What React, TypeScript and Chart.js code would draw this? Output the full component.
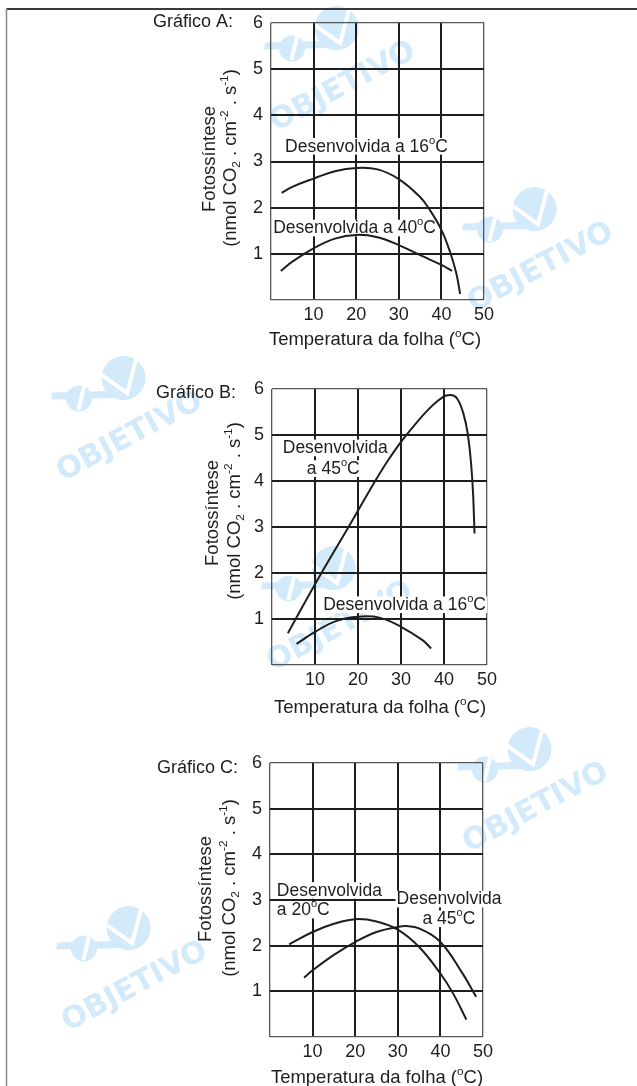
import React, { useEffect, useRef } from "react";
import { Chart, registerables } from "chart.js";

Chart.register(...registerables);

// ---------------- DATA ----------------
const xTickValues = [0, 10, 20, 30, 40, 50];
const yTickValues = [0, 1, 2, 3, 4, 5, 6];

// Gráfico A
const tempA16 = [2.5, 5, 10, 15, 20, 25, 30, 35, 37.5, 40, 42, 43.5, 44.4];
const fotoA16 = [2.32, 2.45, 2.63, 2.79, 2.86, 2.83, 2.62, 2.23, 1.92, 1.52, 1.05, 0.58, 0.13];
const tempA40 = [2.3, 5, 10, 15, 20, 25, 30, 35, 40, 42.5];
const fotoA40 = [0.63, 0.83, 1.12, 1.33, 1.41, 1.36, 1.19, 0.97, 0.76, 0.63];

// Gráfico B
const tempB45 = [3.7, 5.5, 11.5, 17.8, 24, 27, 30, 33, 36, 38.5, 40.5, 41.5, 43, 44.5, 45.5, 46.3, 46.8, 47.1];
const fotoB45 = [0.69, 1, 2, 3, 4, 4.45, 4.85, 5.2, 5.52, 5.74, 5.86, 5.87, 5.8, 5.47, 5.04, 4.38, 3.66, 2.86];
const tempB16 = [5.7, 10, 15, 20, 25, 30, 35, 37];
const fotoB16 = [0.46, 0.72, 0.96, 1.05, 1.03, 0.83, 0.54, 0.36];

// Gráfico C
const tempC20 = [4.5, 10, 15, 20, 25, 30, 35, 40, 43, 46.1];
const fotoC20 = [2.03, 2.3, 2.48, 2.58, 2.53, 2.35, 1.97, 1.39, 0.95, 0.38];
const tempC45 = [8, 10, 15, 20, 25, 30, 32, 35, 40, 45, 48.4];
const fotoC45 = [1.3, 1.46, 1.8, 2.08, 2.3, 2.41, 2.43, 2.38, 2.08, 1.42, 0.88];

// ---------------- TEXT ----------------
type Seg = { t: string; s?: "sup" | "sub" };
const yTitle1: Seg[] = [{ t: "Fotossíntese" }];
const yTitle2: Seg[] = [
  { t: "(nmol CO" }, { t: "2", s: "sub" }, { t: " . cm" }, { t: "-2", s: "sup" },
  { t: " . s" }, { t: "-1", s: "sup" }, { t: ")" },
];
const xTitle: Seg[] = [{ t: "Temperatura da folha (" }, { t: "o", s: "sup" }, { t: "C)" }];
const deg = (pre: string): Seg[] => [{ t: pre }, { t: "o", s: "sup" }, { t: "C" }];

// ---------------- STYLE / LAYOUT ----------------
const PAGE_W = 637;
const PAGE_H = 1086;
const PANEL_H = 362;
const INK = "#1e1e1e";
const FONT = '"Liberation Sans", Arial, Helvetica, sans-serif';
const WM_COLOR = "#d3eafb";
const WATERMARKS: [number, number][] = [
  [343, 87], [541, 268], [130, 437], [340, 627], [536, 808], [135, 987],
];

type Label = { x: number; y: number; segs: Seg[] };
type Series = { x: number[]; y: number[]; mono?: boolean };
type PanelCfg = {
  key: string;
  top: number;
  title: string;
  titlePos: [number, number];
  area: { left: number; right: number; top: number; bottom: number };
  y1Pos: [number, number];
  y2Pos: [number, number];
  xTitlePos: [number, number];
  series: Series[];
  labels: Label[];
};

const PANELS: PanelCfg[] = [
  {
    key: "A", top: 0, title: "Gráfico A:", titlePos: [233, 22],
    area: { left: 271, right: 484, top: 23, bottom: 300 },
    y1Pos: [210, 159], y2Pos: [231, 158], xTitlePos: [375, 340],
    series: [{ x: tempA16, y: fotoA16 }, { x: tempA40, y: fotoA40 }],
    labels: [
      { x: 3.3, y: 3.32, segs: deg("Desenvolvida a 16") },
      { x: 0.5, y: 1.55, segs: deg("Desenvolvida a 40") },
    ],
  },
  {
    key: "B", top: 362, title: "Gráfico B:", titlePos: [236, 31],
    area: { left: 272, right: 487, top: 27, bottom: 303 },
    y1Pos: [213, 151], y2Pos: [235, 149], xTitlePos: [380, 346],
    series: [{ x: tempB45, y: fotoB45, mono: true }, { x: tempB16, y: fotoB16 }],
    labels: [
      { x: 2.5, y: 4.71, segs: [{ t: "Desenvolvida" }] },
      { x: 8.1, y: 4.26, segs: deg("a 45") },
      { x: 11.9, y: 1.3, segs: deg("Desenvolvida a 16") },
    ],
  },
  {
    key: "C", top: 724, title: "Gráfico C:", titlePos: [238, 44],
    area: { left: 270, right: 483, top: 39, bottom: 313 },
    y1Pos: [206, 165], y2Pos: [230, 164], xTitlePos: [377, 354],
    series: [{ x: tempC20, y: fotoC20 }, { x: tempC45, y: fotoC45 }],
    labels: [
      { x: 1.6, y: 3.2, segs: [{ t: "Desenvolvida" }] },
      { x: 1.6, y: 2.77, segs: deg("a 20") },
      { x: 29.7, y: 3.01, segs: [{ t: "Desenvolvida" }] },
      { x: 35.8, y: 2.58, segs: deg("a 45") },
    ],
  },
];

// ---------------- HELPERS ----------------
function segFont(seg: Seg, size: number) {
  return `${seg.s ? size * 0.64 : size}px ${FONT}`;
}
function richWidth(ctx: CanvasRenderingContext2D, segs: Seg[], size: number) {
  let w = 0;
  for (const s of segs) {
    ctx.font = segFont(s, size);
    w += ctx.measureText(s.t).width;
  }
  return w;
}
function drawRich(
  ctx: CanvasRenderingContext2D, segs: Seg[], x: number, y: number, size: number,
  align: "left" | "center" | "right", knockout = false
) {
  const w = richWidth(ctx, segs, size);
  let cx = align === "left" ? x : align === "center" ? x - w / 2 : x - w;
  if (knockout) {
    ctx.fillStyle = "#ffffff";
    ctx.fillRect(cx - 1, y - size * 0.5, w + 2, size * 0.95);
  }
  ctx.fillStyle = INK;
  ctx.textAlign = "left";
  ctx.textBaseline = "middle";
  for (const s of segs) {
    ctx.font = segFont(s, size);
    const dy = s.s === "sup" ? -size * 0.36 : s.s === "sub" ? size * 0.3 : 0;
    ctx.fillText(s.t, cx, y + dy);
    cx += ctx.measureText(s.t).width;
  }
}
function drawWatermark(ctx: CanvasRenderingContext2D, cx: number, cy: number) {
  ctx.save();
  ctx.translate(cx, cy);
  ctx.rotate((-28 * Math.PI) / 180);
  ctx.fillStyle = WM_COLOR;
  ctx.font = `bold 30px "DejaVu Sans", ${FONT}`;
  ctx.textAlign = "center";
  ctx.textBaseline = "middle";
  ctx.fillText("OBJETIVO", 0, 0);
  // logo
  ctx.beginPath();
  ctx.arc(22, -55, 22, 0, Math.PI * 2);
  ctx.fill();
  ctx.beginPath();
  ctx.arc(-27, -58, 13, 0, Math.PI * 2);
  ctx.fill();
  ctx.beginPath();
  ctx.moveTo(-52, -70);
  ctx.lineTo(8, -40);
  ctx.lineTo(4, -50);
  ctx.lineTo(-48, -76);
  ctx.closePath();
  ctx.fill();
  ctx.strokeStyle = "#ffffff";
  ctx.lineWidth = 4;
  ctx.beginPath();
  ctx.moveTo(2, -72);
  ctx.lineTo(18, -40);
  ctx.lineTo(42, -66);
  ctx.stroke();
  ctx.beginPath();
  ctx.moveTo(-33, -48);
  ctx.lineTo(-17, -66);
  ctx.stroke();
  ctx.restore();
}

function makePlugin(p: PanelCfg) {
  return {
    id: "panel" + p.key,
    beforeDraw(chart: any) {
      const ctx: CanvasRenderingContext2D = chart.ctx;
      ctx.save();
      ctx.translate(0, -p.top);
      for (const [wx, wy] of WATERMARKS) drawWatermark(ctx, wx, wy);
      ctx.strokeStyle = "#3a3a3a";
      ctx.lineWidth = 2;
      ctx.beginPath();
      ctx.moveTo(6, 9);
      ctx.lineTo(PAGE_W, 9);
      ctx.stroke();
      ctx.strokeStyle = "#888888";
      ctx.lineWidth = 1.5;
      ctx.beginPath();
      ctx.moveTo(6.5, 8);
      ctx.lineTo(6.5, PAGE_H);
      ctx.stroke();
      ctx.restore();
    },
    beforeDatasetsDraw(chart: any) {
      const ctx: CanvasRenderingContext2D = chart.ctx;
      const xs = chart.scales.x;
      const ys = chart.scales.y;
      ctx.save();
      for (const l of p.labels) {
        drawRich(ctx, l.segs, xs.getPixelForValue(l.x), ys.getPixelForValue(l.y), 17.5, "left", true);
      }
      ctx.restore();
    },
    afterDraw(chart: any) {
      const ctx: CanvasRenderingContext2D = chart.ctx;
      ctx.save();
      drawRich(ctx, [{ t: p.title }], p.titlePos[0], p.titlePos[1], 18, "right");
      drawRich(ctx, xTitle, p.xTitlePos[0], p.xTitlePos[1], 18.5, "center");
      ctx.save();
      ctx.translate(p.y1Pos[0], p.y1Pos[1]);
      ctx.rotate(-Math.PI / 2);
      drawRich(ctx, yTitle1, 0, 0, 18.5, "center");
      ctx.restore();
      ctx.save();
      ctx.translate(p.y2Pos[0], p.y2Pos[1]);
      ctx.rotate(-Math.PI / 2);
      drawRich(ctx, yTitle2, 0, 0, 18.5, "center");
      ctx.restore();
      ctx.restore();
    },
  };
}

function edgeWidth(max: number) {
  return (c: any) => (c.tick && (c.tick.value === 0 || c.tick.value === max) ? 1.3 : 2);
}
function edgeColor(max: number) {
  return (c: any) => (c.tick && (c.tick.value === 0 || c.tick.value === max) ? "#555555" : INK);
}

function Panel({ p }: { p: PanelCfg }) {
  const ref = useRef<HTMLCanvasElement | null>(null);
  useEffect(() => {
    const canvas = ref.current;
    if (!canvas) return;
    const chart = new Chart(canvas, {
      type: "line",
      data: {
        datasets: p.series.map((s) => ({
          data: s.x.map((x, i) => ({ x, y: s.y[i] })),
          borderColor: INK,
          borderWidth: 2,
          pointRadius: 0,
          fill: false,
          tension: 0.4,
          cubicInterpolationMode: s.mono ? ("monotone" as const) : ("default" as const),
        })),
      },
      options: {
        responsive: false,
        animation: false,
        devicePixelRatio: 1,
        events: [],
        layout: {
          padding: { left: 0, top: p.area.top, right: PAGE_W - p.area.right, bottom: 0 },
        },
        plugins: { legend: { display: false }, tooltip: { enabled: false } },
        scales: {
          x: {
            type: "linear",
            min: 0,
            max: 50,
            afterBuildTicks: (s: any) => {
              s.ticks = xTickValues.map((v) => ({ value: v }));
            },
            afterFit: (s: any) => {
              s.height = PANEL_H - p.area.bottom;
            },
            border: { display: false },
            grid: { drawTicks: false, lineWidth: edgeWidth(50), color: edgeColor(50) },
            ticks: {
              padding: 4,
              color: INK,
              font: { family: FONT, size: 18 },
              maxRotation: 0,
              autoSkip: false,
              callback: (v: any) => (v === 0 ? "" : String(v)),
            },
          },
          y: {
            type: "linear",
            min: 0,
            max: 6,
            afterBuildTicks: (s: any) => {
              s.ticks = yTickValues.map((v) => ({ value: v }));
            },
            afterFit: (s: any) => {
              s.width = p.area.left;
            },
            border: { display: false },
            grid: { drawTicks: false, lineWidth: edgeWidth(6), color: edgeColor(6) },
            ticks: {
              padding: 8,
              color: INK,
              font: { family: FONT, size: 18 },
              autoSkip: false,
              callback: (v: any) => (v === 0 ? "" : String(v)),
            },
          },
        },
      },
      plugins: [makePlugin(p)],
    } as any);
    return () => chart.destroy();
  }, [p]);
  return (
    <canvas
      ref={ref}
      width={PAGE_W}
      height={PANEL_H}
      style={{ position: "absolute", left: 0, top: p.top, width: PAGE_W, height: PANEL_H, display: "block" }}
    />
  );
}

export default function App() {
  return (
    <div
      style={{
        position: "absolute",
        left: 0,
        top: 0,
        width: PAGE_W,
        height: PAGE_H,
        background: "#ffffff",
        overflow: "hidden",
      }}
    >
      {PANELS.map((p) => (
        <Panel key={p.key} p={p} />
      ))}
    </div>
  );
}
